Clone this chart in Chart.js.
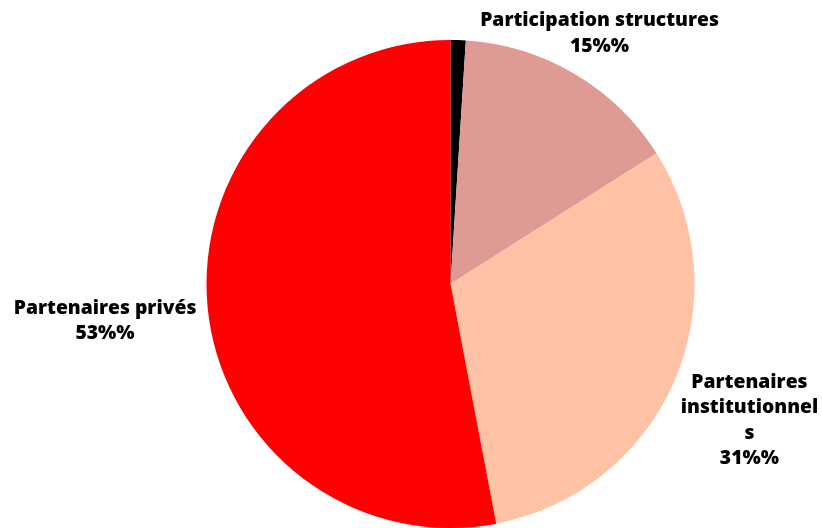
<!DOCTYPE html>
<html>
<head>
<meta charset="utf-8">
<script src="https://cdn.jsdelivr.net/npm/chart.js@4"></script>
<style>
html,body{margin:0;padding:0;background:#fff;overflow:hidden;}
#wrap{width:822px;height:528px;position:relative;}
</style>
</head>
<body>
<div id="wrap"><canvas id="c" width="822" height="528"></canvas></div>
<script>
const categories = ["Autre", "Participation structures", "Partenaires institutionnels", "Partenaires privés"];
const values = [1, 15, 31, 53];
const labelLines = [
  [],
  ["Participation structures", "15%%"],
  ["Partenaires", "institutionnel", "s", "31%%"],
  ["Partenaires privés", "53%%"]
];
const colors = ["#000000", "#DE9A93", "#FFC2A5", "#FF0000"];
const labelDist = [1.2, 1.2, 1.335, 1.422];
const labelShiftY = [0, 1.5, 7, 4.5];

const labelPlugin = {
  id: 'outLabels',
  afterDatasetsDraw(chart) {
    const ctx = chart.ctx;
    const meta = chart.getDatasetMeta(0);
    ctx.save();
    ctx.font = '800 19.3px "Open Sans"';
    ctx.fillStyle = '#000';
    ctx.textAlign = 'center';
    ctx.textBaseline = 'middle';
    const lh = 25.5;
    meta.data.forEach((arc, i) => {
      const lines = labelLines[i];
      if (!lines.length) return;
      const p = arc.getProps(['x','y','startAngle','endAngle','outerRadius'], true);
      const mid = (p.startAngle + p.endAngle) / 2;
      const r = p.outerRadius * labelDist[i];
      const cx = p.x + Math.cos(mid) * r;
      const cy = p.y + Math.sin(mid) * r + labelShiftY[i];
      const top = cy - (lines.length - 1) * lh / 2;
      lines.forEach((t, j) => ctx.fillText(t, cx, top + j * lh));
    });
    ctx.restore();
  }
};

new Chart(document.getElementById('c'), {
  type: 'pie',
  data: {
    labels: categories,
    datasets: [{ data: values, backgroundColor: colors, borderWidth: 0 }]
  },
  options: {
    responsive: false,
    animation: false,
    layout: { padding: { top: 40, bottom: -3, left: 205, right: 126 } },
    plugins: { legend: { display: false }, tooltip: { enabled: false } }
  },
  plugins: [labelPlugin]
});
</script>
</body>
</html>
